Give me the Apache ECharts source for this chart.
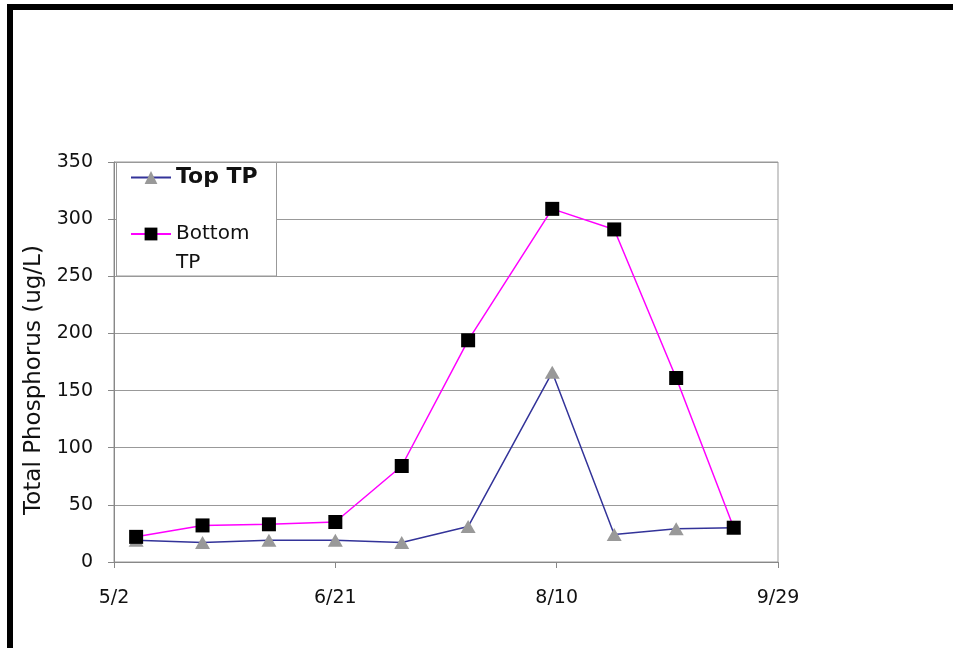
<!DOCTYPE html>
<html>
<head>
<meta charset="utf-8">
<script src="https://cdn.jsdelivr.net/npm/echarts@6/dist/echarts.min.js"></script>
<style>
html,body{margin:0;padding:0;background:#fff;}
#chart{width:953px;height:648px;}
</style>
</head>
<body>
<div id="chart"></div>
<script>
// Sampling dates (m/d)
const dates = ['5/7','5/22','6/6','6/21','7/6','7/21','8/9','8/23','9/6','9/19'];
// Total phosphorus (ug/L)
const topTP = [19, 17, 19, 19, 17, 31, 166, 24, 29, 30];
const bottomTP = [22, 32, 33, 35, 84, 194, 309, 291, 161, 30];
// X-axis tick labels (every 50 days from 5/2)
const xTickLabels = ['5/2', '6/21', '8/10', '9/29'];
const yTicks = [0, 50, 100, 150, 200, 250, 300, 350];

const FONT = 'DejaVu Sans';
const TXT = '#111';
function dayOffset(md) {
  const p = md.split('/').map(Number);
  return (Date.UTC(2001, p[0] - 1, p[1]) - Date.UTC(2001, 4, 2)) / 86400000;
}
const xs = dates.map(dayOffset);
const topData = xs.map((x, i) => [x, topTP[i]]);
const bottomData = xs.map((x, i) => [x, bottomTP[i]]);

const chart = echarts.init(document.getElementById('chart'), null, {renderer: 'canvas'});
const option = {
  animation: false,
  backgroundColor: '#fff',
  textStyle: {fontFamily: FONT},
  grid: {left: 114, right: 175, top: 162, bottom: 86, show: true, borderColor: '#999', borderWidth: 1, backgroundColor: 'transparent'},
  xAxis: {
    type: 'value', min: 0, max: 150, interval: 50,
    axisLine: {lineStyle: {color: '#888', width: 1}},
    axisTick: {show: true, length: 6, lineStyle: {color: '#888'}},
    splitLine: {show: false},
    axisLabel: {margin: 27, fontSize: 19, color: TXT, fontFamily: FONT,
      formatter: v => xTickLabels[Math.round(v / 50)] || ''}
  },
  yAxis: {
    type: 'value', min: 0, max: 350, interval: 50,
    name: 'Total Phosphorus (ug/L)', nameLocation: 'middle', nameGap: 66,
    nameTextStyle: {fontSize: 23, color: TXT, fontFamily: FONT, padding: [0, 36, 0, 0]},
    axisLine: {show: true, lineStyle: {color: '#888', width: 1}},
    axisTick: {show: true, length: 6, lineStyle: {color: '#888'}},
    splitLine: {show: true, lineStyle: {color: '#999', width: 1}},
    axisLabel: {margin: 21, fontSize: 19, color: TXT, fontFamily: FONT,
      formatter: v => yTicks.includes(v) ? String(v) : ''}
  },
  graphic: [
    {type: 'rect', z: 100, shape: {x: 7, y: 4, width: 946, height: 6}, style: {fill: '#000'}},
    {type: 'rect', z: 100, shape: {x: 7, y: 4, width: 6, height: 644}, style: {fill: '#000'}},
    {type: 'rect', z: 10, shape: {x: 116.5, y: 162.5, width: 160, height: 113.5}, style: {fill: '#fff', stroke: '#999', lineWidth: 1}}
  ],
  legend: [
    {
      z: 20, left: 130, top: 166.5, padding: 0, orient: 'vertical',
      itemWidth: 40, itemHeight: 16, itemGap: 0,
      data: ['Top TP'],
      textStyle: {fontSize: 22, fontWeight: 'bold', color: TXT, fontFamily: FONT}
    },
    {
      z: 20, left: 130, top: 195, padding: 0, orient: 'vertical',
      itemWidth: 40, itemHeight: 16, itemGap: 0,
      data: ['Bottom TP'],
      formatter: () => '{p| }\n{a|Bottom}\n{a|TP}',
      textStyle: {
        color: TXT, fontFamily: FONT, fontSize: 20,
        rich: {
          p: {fontSize: 20, lineHeight: 29, fontFamily: FONT},
          a: {fontSize: 20, lineHeight: 29, color: TXT, fontFamily: FONT}
        }
      }
    }
  ],
  series: [
    {
      name: 'Top TP', type: 'line', data: topData,
      symbol: 'triangle', symbolSize: [15, 13],
      lineStyle: {color: '#333399', width: 1.5},
      itemStyle: {color: '#999999', borderWidth: 0},
      z: 3
    },
    {
      name: 'Bottom TP', type: 'line', data: bottomData,
      symbol: 'rect', symbolSize: 14,
      lineStyle: {color: '#ff00ff', width: 1.5},
      itemStyle: {color: '#000000', borderWidth: 0},
      z: 4
    }
  ]
};
chart.setOption(option);
</script>
</body>
</html>
